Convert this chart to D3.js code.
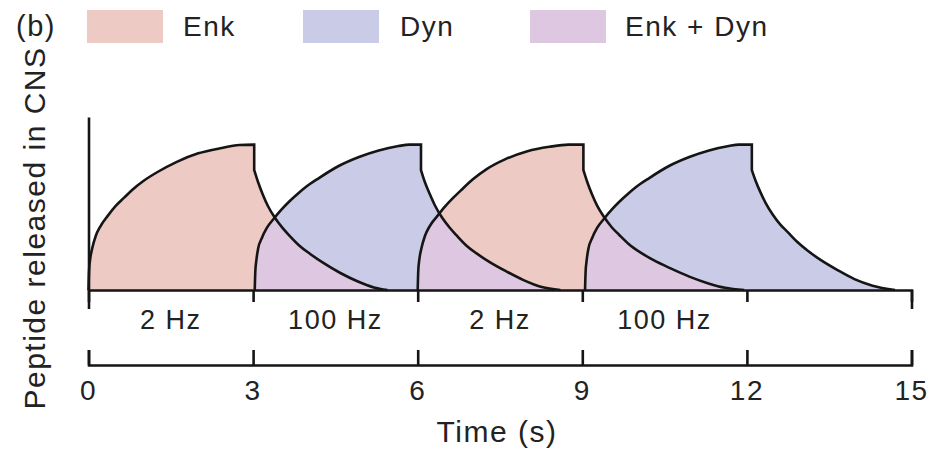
<!DOCTYPE html>
<html>
<head>
<meta charset="utf-8">
<script src="https://cdn.jsdelivr.net/npm/d3@7"></script>
<style>
  html, body { margin: 0; padding: 0; background: #fff; }
  svg { display: block; font-family: "Liberation Sans", Arial, Helvetica, sans-serif; }
  text { fill: #222; letter-spacing: 1.5px; }
</style>
</head>
<body>
<svg id="chart" width="949" height="456"></svg>
<script>
// Time axis (s) and stimulation labels
const timeTicks = [0, 3, 6, 9, 12, 15];
const stimStarts = [0, 3, 6, 9];
const stimLabels = ["2 Hz", "100 Hz", "2 Hz", "100 Hz"];

// Legend entries
const legendLabels = ["Enk", "Dyn", "Enk + Dyn"];

// Released peptide (relative units): [time (s), level]
const enk1Rise = [[0,0],[0.01,0.13],[0.03,0.21],[0.07,0.29],[0.13,0.37],[0.22,0.44],[0.35,0.51],[0.5,0.58],[0.65,0.635],[0.8,0.69],[1.0,0.75],[1.25,0.81],[1.6,0.88],[2.0,0.94],[2.4,0.975],[2.75,0.997],[3.02,1.0]];
const enk1Fall = [[3.02,0.825],[3.09,0.743],[3.18,0.654],[3.27,0.578],[3.40,0.495],[3.54,0.426],[3.67,0.371],[3.85,0.303],[4.04,0.248],[4.28,0.186],[4.59,0.117],[4.89,0.062],[5.2,0.018],[5.45,0]];

const dyn1Rise = [[3.03,0],[3.04,0.124],[3.06,0.206],[3.09,0.282],[3.16,0.358],[3.25,0.427],[3.38,0.492],[3.52,0.554],[3.65,0.605],[3.83,0.667],[3.96,0.708],[4.2,0.77],[4.56,0.853],[4.93,0.915],[5.29,0.96],[5.65,0.99],[5.85,1.0],[6.06,1.0]];
const dyn1Fall = [[6.06,0.825],[6.13,0.743],[6.22,0.66],[6.31,0.585],[6.44,0.50],[6.58,0.43],[6.71,0.375],[6.89,0.305],[7.08,0.25],[7.32,0.19],[7.63,0.125],[7.93,0.068],[8.26,0.02],[8.6,0]];

const enk2Rise = [[6.0,0],[6.01,0.13],[6.03,0.21],[6.07,0.29],[6.13,0.37],[6.22,0.44],[6.36,0.51],[6.5,0.575],[6.65,0.635],[6.8,0.69],[7.0,0.76],[7.25,0.83],[7.6,0.9],[8.0,0.955],[8.4,0.985],[8.75,1.0],[9.02,1.0]];
const enk2Fall = [[9.02,0.825],[9.09,0.743],[9.18,0.655],[9.27,0.58],[9.4,0.50],[9.54,0.43],[9.67,0.38],[9.85,0.315],[10.05,0.26],[10.3,0.205],[10.6,0.15],[10.95,0.092],[11.3,0.045],[11.6,0.015],[11.95,0]];

const dyn2Rise = [[9.05,0],[9.06,0.124],[9.08,0.206],[9.11,0.282],[9.18,0.358],[9.27,0.427],[9.4,0.492],[9.54,0.554],[9.67,0.605],[9.85,0.667],[9.98,0.708],[10.22,0.77],[10.58,0.853],[10.95,0.915],[11.31,0.96],[11.67,0.99],[11.85,1.0],[12.09,1.0]];
const dyn2Fall = [[12.09,0.825],[12.16,0.75],[12.25,0.67],[12.34,0.6],[12.47,0.52],[12.61,0.45],[12.74,0.40],[12.92,0.33],[13.11,0.27],[13.35,0.205],[13.66,0.135],[13.96,0.075],[14.29,0.03],[14.7,0]];

const colEnk = "#edcac3";
const colDyn = "#caccE7";
const colMix = "#dec8e1";
const ink = "#151515";

const svg = d3.select("#chart");

const x = d3.scaleLinear().domain([0, 15]).range([88.5, 911.5]);
const y = d3.scaleLinear().domain([0, 1.19]).range([290, 117]);

const line = d3.line().x(d => x(d[0])).y(d => y(d[1])).curve(d3.curveMonotoneX);

// One pulse outline: rising phase, drop at stimulus end, then decay
function pulse(rise, fall) {
  return line(rise) + "L" + line(fall).slice(1);
}

const enkPulses = [[enk1Rise, enk1Fall], [enk2Rise, enk2Fall]].map(p => pulse(p[0], p[1]));
const dynPulses = [[dyn1Rise, dyn1Fall], [dyn2Rise, dyn2Fall]].map(p => pulse(p[0], p[1]));

// Region where both peptides are present
svg.append("defs").append("clipPath").attr("id", "dynClip")
  .selectAll("path").data(dynPulses).join("path").attr("d", d => d + "Z");

svg.append("g").selectAll("path").data(enkPulses).join("path")
  .attr("d", d => d + "Z").attr("fill", colEnk);
svg.append("g").selectAll("path").data(dynPulses).join("path")
  .attr("d", d => d + "Z").attr("fill", colDyn);
svg.append("g").attr("clip-path", "url(#dynClip)")
  .selectAll("path").data(enkPulses).join("path")
  .attr("d", d => d + "Z").attr("fill", colMix);

// Outlines
svg.append("g").selectAll("path").data(enkPulses.concat(dynPulses)).join("path")
  .attr("d", d => d)
  .attr("fill", "none").attr("stroke", ink)
  .attr("stroke-width", 2.6).attr("stroke-linejoin", "miter");

// Y axis
const yAxis = svg.append("g").attr("transform", `translate(${x(0)},0)`)
  .call(d3.axisLeft(y).tickValues([]).tickSizeOuter(0));
yAxis.select(".domain").attr("stroke", ink).attr("stroke-width", 2.6);

// Baseline with stimulation epochs
const stimAxis = svg.append("g").attr("transform", `translate(0,${y(0)})`)
  .call(d3.axisBottom(x).tickValues(timeTicks).tickSizeInner(12).tickSizeOuter(19).tickFormat(""));
stimAxis.selectAll("path, line").attr("stroke", ink).attr("stroke-width", 2.6);

svg.append("g").selectAll("text").data(stimStarts).join("text")
  .attr("x", d => x(d + 1.5)).attr("y", 329)
  .attr("text-anchor", "middle").attr("font-size", 27)
  .text((d, i) => stimLabels[i]);

// Time axis
const tAxis = svg.append("g").attr("transform", "translate(0,365)")
  .call(d3.axisTop(x).tickValues(timeTicks).tickSize(15).tickFormat(""));
tAxis.selectAll("path, line").attr("stroke", ink).attr("stroke-width", 2.6);

svg.append("g").selectAll("text").data(timeTicks).join("text")
  .attr("x", d => x(d)).attr("y", 400)
  .attr("text-anchor", "middle").attr("font-size", 28)
  .text(d => d);

svg.append("text").attr("x", 497).attr("y", 442)
  .attr("text-anchor", "middle").attr("font-size", 30).text("Time (s)");

svg.append("text").attr("transform", "translate(45,228) rotate(-90)")
  .attr("text-anchor", "middle").attr("font-size", 30).text("Peptide released in CNS");

// Panel tag and legend
svg.append("text").attr("x", 16).attr("y", 36).attr("font-size", 29).text("(b)");

const legendSwatchX = [87, 303, 530];
const legendTextX = [183, 400, 625];
const legendCols = [colEnk, colDyn, colMix];
const legend = svg.append("g");
legend.selectAll("rect").data(legendLabels).join("rect")
  .attr("x", (d, i) => legendSwatchX[i]).attr("y", 10)
  .attr("width", 76).attr("height", 33)
  .attr("fill", (d, i) => legendCols[i]);
legend.selectAll("text").data(legendLabels).join("text")
  .attr("x", (d, i) => legendTextX[i]).attr("y", 36)
  .attr("font-size", 28).text(d => d);
</script>
</body>
</html>
